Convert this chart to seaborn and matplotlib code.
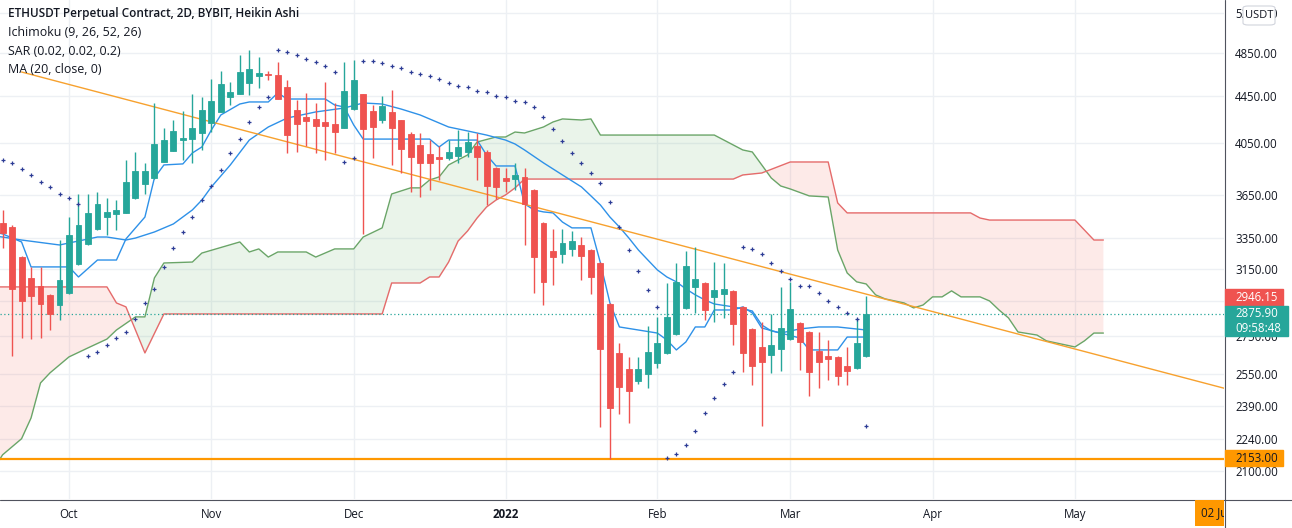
import numpy as np
import pandas as pd
import matplotlib
matplotlib.use("Agg")
import matplotlib.pyplot as plt
from matplotlib.patches import Rectangle, FancyBboxPatch
from matplotlib.lines import Line2D
from matplotlib.transforms import IdentityTransform
from matplotlib.ticker import NullLocator, FixedLocator
import seaborn as sns

# ---------------- data ----------------
first_bar = "2021-09-17"   # 2D Heikin Ashi bars
opens = [3450, 3423, 3223, 3091, 3042, 2988, 2928, 3000, 3179, 3309, 3410, 3492, 3514, 3521, 3628, 3731,
         3776, 3899, 3986, 4074, 4082, 4132, 4216, 4310, 4441, 4468, 4567, 4632, 4651, 4641, 4531, 4327,
         4267, 4250, 4224, 4207, 4174, 4335, 4468, 4318, 4241, 4310, 4241, 4123, 4034, 3962, 3935, 3931,
         3946, 3978, 4026, 3978, 3853, 3776, 3768, 3784, 3687, 3451, 3262, 3243, 3276, 3302, 3269, 3185,
         2934, 2660, 2576, 2515, 2551, 2607, 2660, 2763, 2911, 3036, 3060, 2976, 2994, 3012, 2917, 2791,
         2692, 2649, 2681, 2735, 2825, 2774, 2671, 2644, 2639, 2592, 2581, 2644]
highs = [3542, 3437, 3230, 3160, 3160, 2992, 3335, 3492, 3657, 3657, 3672, 3628, 3613, 3915, 3978, 3892,
         4388, 4174, 4241, 4318, 4468, 4441, 4604, 4679, 4577, 4831, 4879, 4811, 4679, 4763, 4595, 4414,
         4477, 4388, 4577, 4388, 4763, 4782, 4472, 4370, 4450, 4504, 4245, 4140, 4132, 4074, 4026, 4074,
         4157, 4140, 4132, 3990, 3860, 3853, 3892, 3853, 3690, 3455, 3410, 3410, 3396, 3355, 3275, 3190,
         2940, 2714, 2639, 2639, 2808, 2859, 3060, 3185, 3262, 3289, 3065, 3191, 3185, 3015, 2920, 2795,
         2831, 2876, 3036, 3067, 2831, 2780, 2774, 2730, 2645, 2692, 2853, 2982]
lows = [3282, 2644, 2741, 2735, 2741, 2785, 2842, 2995, 3175, 3305, 3405, 3369, 3403, 3517, 3624, 3657,
        3772, 3895, 3982, 3915, 3892, 3994, 4140, 4306, 4370, 4464, 4459, 4522, 4595, 4420, 3970, 3978,
        4026, 3970, 3915, 3970, 4170, 4331, 3376, 3931, 4216, 3876, 3814, 3672, 3635, 3687, 3761, 3915,
        3892, 3939, 3761, 3577, 3620, 3672, 3687, 3302, 3000, 2928, 3048, 3185, 3230, 3079, 2994, 2294,
        2153, 2354, 2312, 2500, 2480, 2581, 2656, 2759, 2907, 2882, 2842, 2831, 2853, 2703, 2561, 2495,
        2298, 2556, 2566, 2731, 2571, 2441, 2480, 2520, 2495, 2495, 2577, 2640]
closes = [3383, 3024, 2952, 2982, 2934, 2876, 3079, 3369, 3437, 3521, 3585, 3528, 3542, 3746, 3829, 3829,
          4042, 4074, 4149, 4091, 4174, 4327, 4405, 4558, 4486, 4669, 4697, 4660, 4640, 4423, 4115, 4207,
          4233, 4190, 4190, 4140, 4495, 4595, 4165, 4182, 4361, 4174, 4002, 3939, 3892, 3892, 3925, 3978,
          4018, 4058, 3939, 3716, 3709, 3753, 3799, 3585, 3223, 3067, 3223, 3315, 3328, 3230, 3097, 2681,
          2383, 2485, 2465, 2576, 2665, 2714, 2859, 3067, 3166, 3085, 2899, 3018, 3024, 2819, 2660, 2592,
          2612, 2703, 2796, 2905, 2719, 2561, 2612, 2628, 2540, 2566, 2714, 2876]

# Parabolic SAR, one value per bar
sar = [3915, 3892, 3845, 3799, 3746, 3709, 3657, 3628, 3585, 2644, 2665, 2703, 2741, 2774, 2848, 2940,
       3024, 3160, 3282, 3389, 3492, 3613, 3716, 3837, 3970, 4082, 4224, 4353, 4441, 4879, 4860, 4831,
       4792, 4763, 4726, 4669, 3899, 3931, 4773, 4773, 4754, 4726, 4707, 4669, 4651, 4632, 4604, 4567,
       4540, 4531, 4495, 4486, 4450, 4441, 4405, 4397, 4353, 4267, 4165, 4066, 3970, 3892, 3814, 3739,
       3599, 3423, 3269, 3135, 3018, 2917, 2156, 2173, 2212, 2275, 2359, 2431, 2500, 2561, 3289, 3276,
       3243, 3185, 3135, 3085, 3042, 3042, 3000, 2952, 2917, 2882, 2848, 2298]

# Ichimoku leading spans (bar number -> value), displaced 25 bars ahead
lead_a_bar = [0, 1, 3, 4, 5, 6, 8, 10, 12, 13, 15, 16, 17, 18, 21, 22, 26, 27, 28, 29, 30, 33, 34, 36, 38,
              39, 41, 42, 44, 45, 46, 47, 48, 49, 50, 51, 53, 54, 55, 56, 58, 59, 60, 62, 63, 64, 76, 79,
              80, 81, 82, 83, 84, 86, 88, 89, 90, 91, 92, 93, 94, 96, 97, 98, 99, 100, 101, 102, 104, 105,
              106, 107, 108, 110, 111, 112, 113, 114, 115, 116, 117]
lead_a_val = [2104, 2169, 2240, 2335, 2505, 2556, 2639, 2687, 2735, 2785, 2859, 2859, 3091, 3185, 3191,
              3249, 3322, 3256, 3276, 3223, 3256, 3256, 3223, 3276, 3276, 3355, 3417, 3657, 3702, 3702,
              3761, 3784, 3876, 3915, 3954, 4058, 4099, 4099, 4140, 4132, 4182, 4224, 4250, 4241, 4250,
              4115, 4115, 3994, 3978, 3876, 3776, 3716, 3694, 3643, 3635, 3269, 3122, 3067, 3054, 2988,
              2964, 2940, 2911, 2928, 2976, 2976, 3012, 2976, 2976, 2952, 2899, 2853, 2774, 2757, 2725,
              2714, 2703, 2692, 2725, 2768, 2768]
lead_b_bar = [0, 12, 13, 14, 16, 18, 41, 42, 45, 46, 47, 48, 49, 50, 51, 52, 53, 54, 55, 56, 78, 79, 81,
              84, 88, 89, 90, 103, 104, 105, 114, 116, 117]
lead_b_val = [3036, 3036, 2940, 2917, 2660, 2876, 2876, 3060, 3060, 3097, 3097, 3191, 3328, 3396, 3485,
              3563, 3613, 3650, 3702, 3768, 3768, 3799, 3814, 3899, 3899, 3592, 3521, 3521, 3485, 3471,
              3471, 3335, 3335]
# Ichimoku conversion line
tenkan_bar = [0, 1, 3, 4, 8, 9, 11, 13, 14, 16, 17, 18, 20, 21, 22, 23, 24, 26, 27, 29, 30, 31, 35, 36,
              37, 38, 39, 46, 47, 48, 51, 52, 53, 55, 56, 57, 58, 59, 60, 61, 63, 64, 65, 66, 68, 70, 71,
              72, 73, 74, 75, 76, 78, 79, 80, 81, 83, 85, 86, 89, 90, 92]
tenkan_val = [3389, 3376, 3322, 3160, 3160, 3097, 3204, 3204, 3342, 3492, 3776, 3876, 3884, 3970, 4018,
              4157, 4284, 4379, 4397, 4397, 4477, 4423, 4423, 4370, 4353, 4199, 4082, 4082, 4018, 4074,
              4074, 3954, 3868, 3868, 3585, 3542, 3528, 3521, 3457, 3417, 3417, 3185, 2940, 2802, 2785,
              2768, 2730, 2676, 2719, 2802, 2802, 2899, 2899, 2917, 2882, 2796, 2768, 2741, 2676, 2676,
              2746, 2746]
# MA (20, close)
ma_bar = [0, 1, 3, 7, 11, 12, 14, 15, 17, 19, 21, 22, 23, 25, 27, 29, 31, 34, 37, 39, 41, 43, 45, 48, 50,
          52, 54, 55, 56, 58, 60, 62, 63, 64, 65, 66, 67, 68, 69, 70, 71, 72, 73, 74, 75, 76, 78, 80, 81,
          82, 83, 85, 87, 89, 92]
ma_val = [3362, 3355, 3335, 3302, 3355, 3355, 3335, 3348, 3389, 3444, 3542, 3613, 3709, 3876, 4074, 4182,
          4258, 4310, 4344, 4388, 4379, 4335, 4284, 4182, 4149, 4115, 4074, 4042, 3994, 3892, 3799, 3709,
          3643, 3577, 3492, 3423, 3348, 3269, 3204, 3141, 3097, 3067, 3024, 2988, 2958, 2934, 2917, 2893,
          2813, 2780, 2768, 2791, 2802, 2802, 2785]

trend_dates = ["2021-09-21", "2022-06-02"]
trend_prices = [4669, 2475]
hline_price = 2153.00
last_price = 2875.90
countdown = "09:58:48"
red_label_price = 2946.15
price_ticks = [2100, 2240, 2390, 2550, 2750, 2950, 3150, 3350, 3650, 4050, 4450, 4850, 5250]
hidden_ticks = [2950]   # covered by the price labels on the scale
month_ticks = ["2021-10-01", "2021-10-31", "2021-11-30", "2022-01-01", "2022-02-02",
               "2022-03-02", "2022-04-01", "2022-05-01"]
month_labels = ["Oct", "Nov", "Dec", "2022", "Feb", "Mar", "Apr", "May"]
legend_lines = ["ETHUSDT Perpetual Contract, 2D, BYBIT, Heikin Ashi",
                "Ichimoku (9, 26, 52, 26)", "SAR (0.02, 0.02, 0.2)", "MA (20, close, 0)"]

# ---------------- style ----------------
sns.set_theme(style="white")
plt.rcParams['font.family'] = ['Open Sans', 'DejaVu Sans']
TXT = '#131722'
UP, DOWN = '#26A69A', '#EF5350'
BLUE = '#2E91E8'
W, H = 1292, 528

fig = plt.figure(figsize=(W / 100, H / 100), dpi=100)
fig.patch.set_facecolor('white')
ax = fig.add_axes([0, 29 / H, 1224 / W, 499 / H])
ax.set_facecolor('white')
ax.set_yscale('log')

t0 = pd.Timestamp(first_bar)
def bar_date(n):
    return t0 + pd.to_timedelta(2 * (np.asarray(n) - 1), unit='D')

bars = np.arange(1, len(opens) + 1)
dates = bar_date(bars)
o, h, l, c = map(np.asarray, (opens, highs, lows, closes))
up = c >= o
cols = np.where(up, UP, DOWN)

# Ichimoku cloud fill
grid = np.arange(0, max(lead_a_bar) + 1)
a_g = np.exp(np.interp(grid, lead_a_bar, np.log(lead_a_val)))
b_g = np.exp(np.interp(grid, lead_b_bar, np.log(lead_b_val)))
gd = bar_date(grid)
ax.fill_between(gd, a_g, b_g, where=a_g >= b_g, interpolate=True, color='#43A047', alpha=0.11, lw=0, zorder=1)
ax.fill_between(gd, a_g, b_g, where=a_g < b_g, interpolate=True, color='#F44336', alpha=0.11, lw=0, zorder=1)

sns.lineplot(x=bar_date(lead_a_bar), y=lead_a_val, ax=ax, color='#6AA568', lw=1.0, zorder=2, estimator=None)
sns.lineplot(x=bar_date(lead_b_bar), y=lead_b_val, ax=ax, color='#E56B6B', lw=1.0, zorder=2, estimator=None)
sns.lineplot(x=bar_date(tenkan_bar), y=tenkan_val, ax=ax, color=BLUE, lw=1.0, zorder=2, estimator=None)
sns.lineplot(x=bar_date(ma_bar), y=ma_val, ax=ax, color=BLUE, lw=1.0, zorder=2, estimator=None)

# trend line and horizontal line
ax.plot(pd.to_datetime(trend_dates), trend_prices, color='#F7A12E', lw=1.0, zorder=2)
ax.axhline(hline_price, color='#FF9800', lw=1.6, zorder=2)
ax.axhline(last_price, color=UP, lw=0.9, ls=(0, (1, 2)), zorder=2)

# candles
ax.vlines(dates, l, h, colors=cols, lw=1.0, zorder=3)
ax.bar(dates, np.abs(c - o), bottom=np.minimum(o, c), width=1.25, color=cols, edgecolor=cols,
       linewidth=0.6, zorder=4)

# SAR
ax.scatter(dates, sar, marker='+', s=12, color='#2D3C96', linewidths=0.9, zorder=5)

# axes
ax.set_xlim(pd.Timestamp("2021-09-16 11:00"), pd.Timestamp("2022-06-01 10:00"))
ax.set_ylim(1985.4, 5393)
ax.yaxis.tick_right()
ax.yaxis.set_major_locator(FixedLocator(price_ticks))
ax.yaxis.set_minor_locator(NullLocator())
ax.set_yticklabels(["" if v in hidden_ticks else f"{v:.2f}" for v in price_ticks])
ax.set_xticks(pd.to_datetime(month_ticks))
ax.set_xticklabels(month_labels)
ax.xaxis.set_minor_locator(NullLocator())
ax.tick_params(axis='y', length=0, pad=7.9, labelsize=8.3, colors=TXT)
ax.tick_params(axis='x', length=0, pad=6.5, labelsize=8.3, colors=TXT)
ax.get_xticklabels()[3].set_fontweight('bold')
ax.grid(True, color='#EDF0F4', lw=1, zorder=0)
ax.set_axisbelow(True)
for s in ax.spines.values():
    s.set_visible(False)
ax.set_xlabel('')
ax.set_ylabel('')

# frame lines of the price / time scales
fig.add_artist(Line2D([1224.5 / W, 1224.5 / W], [0, 1], transform=fig.transFigure, color='#50535E', lw=0.8))
fig.add_artist(Line2D([0, 1], [1 - 499.5 / H, 1 - 499.5 / H], transform=fig.transFigure, color='#50535E', lw=0.8))

# legend text
fig.text(8 / W, 1 - 14 / H, legend_lines[0], fontsize=8.45, color=TXT, va='center', ha='left', fontweight='semibold')
for i, s in enumerate(legend_lines[1:]):
    fig.text(8 / W, 1 - (33 + 18.3 * i) / H, s, fontsize=8.9, color=TXT, va='center', ha='left')

ID = IdentityTransform()
def ydisp(p):
    return ax.transData.transform((ax.get_xlim()[0], p))[1]

def scale_label(yc, h_px, w_px, fc, lines, tc):
    rect = Rectangle((1224.5, yc - h_px / 2), w_px, h_px, transform=ID, color=fc, zorder=20)
    fig.add_artist(rect)
    n = len(lines)
    for k, s in enumerate(lines):
        yy = yc + h_px / 2 - (k + 0.5) * h_px / n
        fig.text(1235 / W, yy / H, s, fontsize=8.3, color=tc, va='center', ha='left', zorder=21)

y_last = ydisp(last_price)
scale_label(ydisp(red_label_price) + 4.5, 17, 58.5, DOWN, [f"{red_label_price:.2f}"], 'white')
scale_label(y_last - 7, 30, 63, UP, [f"{last_price:.2f}", countdown], 'white')
scale_label(ydisp(hline_price) + 0.5, 15.5, 58.5, '#FF9800', [f"{hline_price:.2f}"], TXT)

# USDT box
fig.add_artist(FancyBboxPatch((1243 / W, 1 - 25 / H), 32 / W, 19 / H, boxstyle='round,pad=0,rounding_size=0.004',
                              transform=fig.transFigure, fc='white', ec='#D1D4DC', lw=0.8, zorder=20))
fig.text(1259 / W, 1 - 15 / H, "USDT", fontsize=8, color=TXT, va='center', ha='center', zorder=21)

# date label on the time scale, clipped by the price scale
dl = fig.text(1201 / W, 1 - 513 / H, "02 Jun", fontsize=8.3, color=TXT, va='center', ha='left', zorder=21,
              bbox=dict(boxstyle='square,pad=0.55', fc='#FF9800', ec='none'))
dl.set_clip_box(matplotlib.transforms.Bbox([[0, 0], [1224, 528]]))
dl.set_clip_on(True)

fig.savefig("out.png", dpi=100, facecolor='white')
